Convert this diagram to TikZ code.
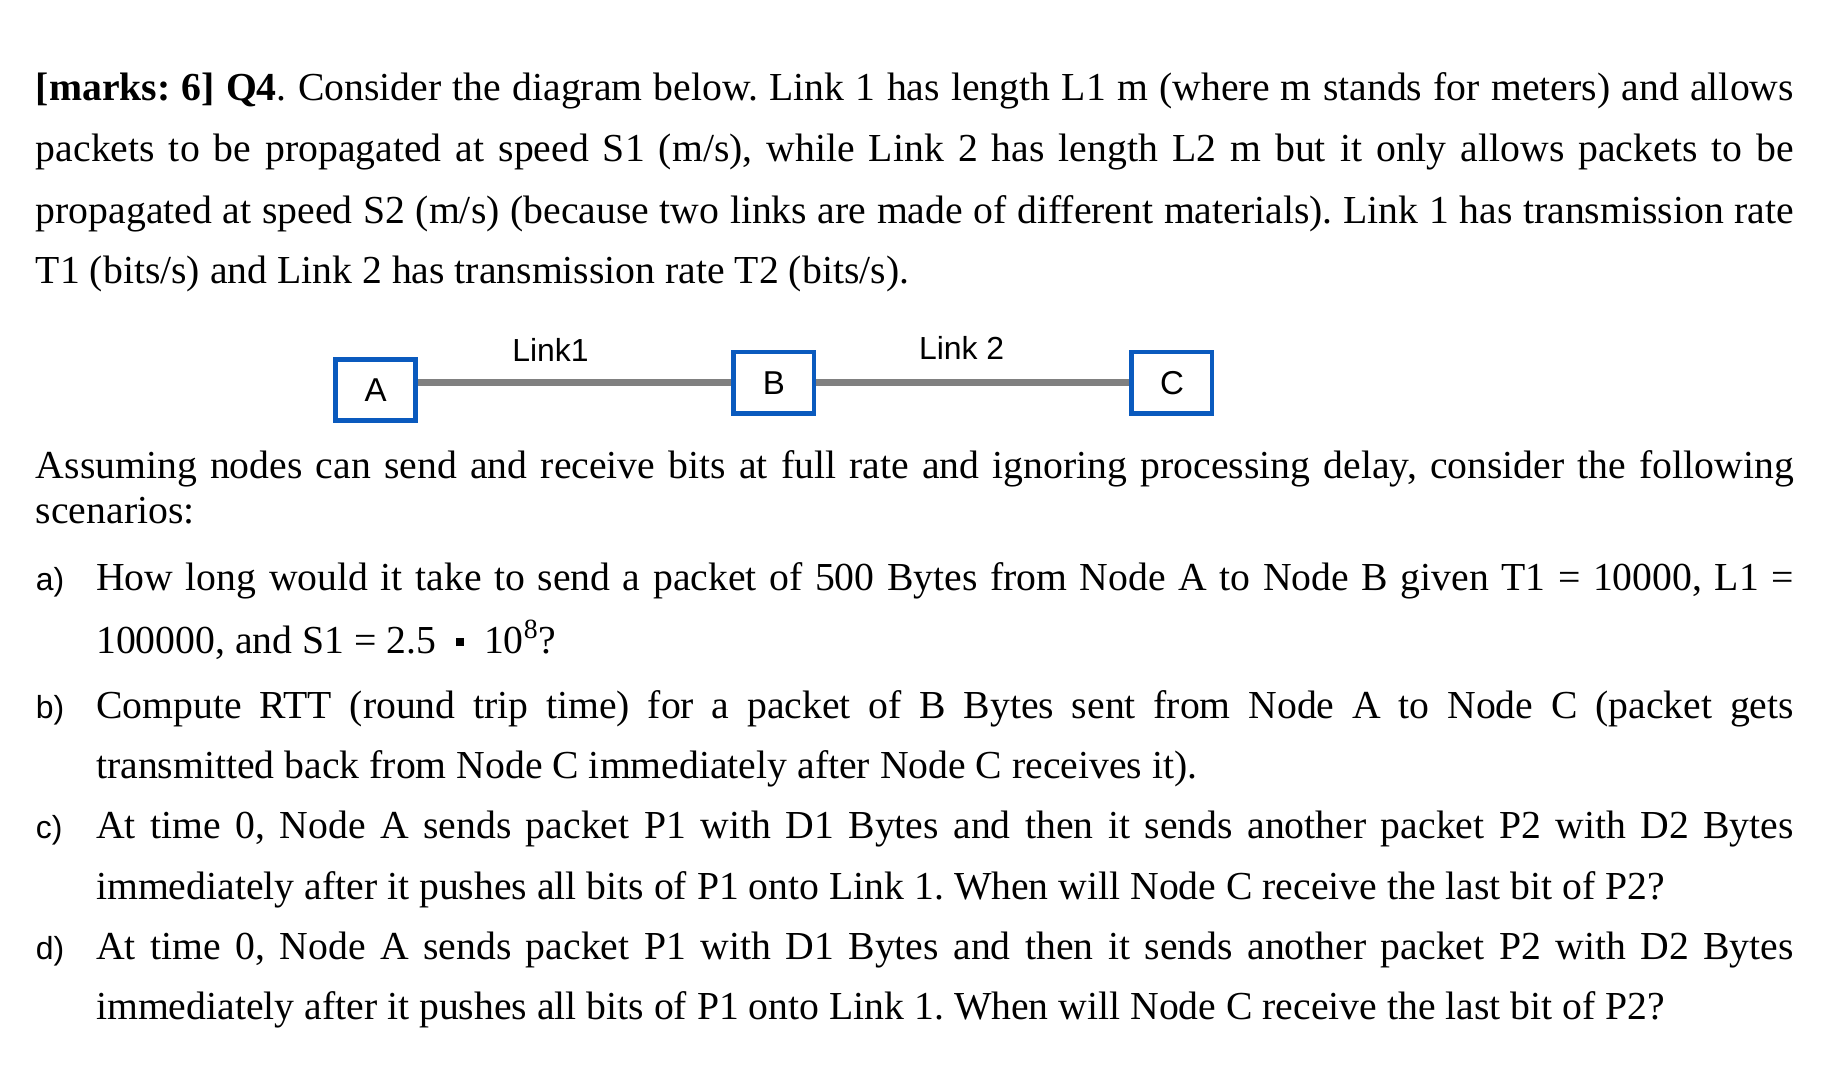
\documentclass[tikz,border=0pt]{standalone}
\usepackage{fontspec}
\setmainfont{Liberation Serif}
\setsansfont{Liberation Sans}
\definecolor{boxblue}{RGB}{10,90,190}
\definecolor{linkgray}{RGB}{128,128,128}
\newlength{\Wfull}\setlength{\Wfull}{744pt}
\newlength{\Witem}\setlength{\Witem}{718.5pt}
\frenchspacing
\begin{document}
\begin{tikzpicture}[x=0.5pt,y=-0.5pt,
  txt/.style={anchor=base west,inner sep=0pt,font=\fontsize{16.8}{20}\selectfont},
  lbl/.style={anchor=base west,inner sep=0pt,font=\sffamily\fontsize{13.5}{16}\selectfont},
  nodebox/.style={draw=boxblue,line width=2pt,minimum width=34pt,minimum height=26pt,inner sep=0pt,font=\sffamily\fontsize{14}{16}\selectfont},
  link/.style={draw=linkgray,line width=3pt}]
\useasboundingbox (0,0) rectangle (1560,913);
% paragraph 1
\node[txt] (p1) at (30,85) {\hbox to \Wfull{\textbf{[marks: 6] Q4}. Consider the diagram below. Link 1 has length L1 m (where m stands for meters) and allows}};
\node[txt] (p2) at (30,137) {\hbox to \Wfull{packets to be propagated at speed S1 (m/s), while Link 2 has length L2 m but it only allows packets to be}};
\node[txt] (p3) at (30,189) {\hbox to \Wfull{propagated at speed S2 (m/s) (because two links are made of different materials). Link 1 has transmission rate}};
\node[txt] (p4) at (30,240) {T1 (bits/s) and Link 2 has transmission rate T2 (bits/s).};
% diagram
\node[nodebox] (A) at (318,330) {A};
\node[nodebox] (B) at (655,324) {B};
\node[nodebox] (C) at (992,324) {C};
\draw[link] (A.east|-0,324) -- (B.west|-0,324);
\draw[link] (B.east|-0,324) -- (C.west|-0,324);
\node[lbl,anchor=base] (l1) at (466,306) {Link1};
\node[lbl,anchor=base] (l2) at (814,304) {Link 2};
% paragraph 2
\node[txt] (q1) at (30,405) {\hbox to \Wfull{Assuming nodes can send and receive bits at full rate and ignoring processing delay, consider the following}};
\node[txt] (q2) at (30,443) {scenarios:};
% items
\node[lbl] (ia) at (30,500) {a)};
\node[txt] (a1) at (81,500) {\hbox to \Witem{How long would it take to send a packet of 500 Bytes from Node A to Node B given T1 = 10000, L1 =}};
\node[txt] (a2) at (81,553) {100000, and S1 = 2.5 \ \raisebox{3pt}{\rule{3.5pt}{3.5pt}}\ \ 10\textsuperscript{8}?};
\node[lbl] (ib) at (30,608) {b)};
\node[txt] (b1) at (81,608) {\hbox to \Witem{Compute RTT (round trip time) for a packet of B Bytes sent from Node A to Node C (packet gets}};
\node[txt] (b2) at (81,659) {transmitted back from Node C immediately after Node C receives it).};
\node[lbl] (ic) at (30,710) {c)};
\node[txt] (c1) at (81,710) {\hbox to \Witem{At time 0, Node A sends packet P1 with D1 Bytes and then it sends another packet P2 with D2 Bytes}};
\node[txt] (c2) at (81,761) {immediately after it pushes all bits of P1 onto Link 1. When will Node C receive the last bit of P2?};
\node[lbl] (id) at (30,812) {d)};
\node[txt] (d1) at (81,812) {\hbox to \Witem{At time 0, Node A sends packet P1 with D1 Bytes and then it sends another packet P2 with D2 Bytes}};
\node[txt] (d2) at (81,863) {immediately after it pushes all bits of P1 onto Link 1. When will Node C receive the last bit of P2?};
\end{tikzpicture}
\end{document}
